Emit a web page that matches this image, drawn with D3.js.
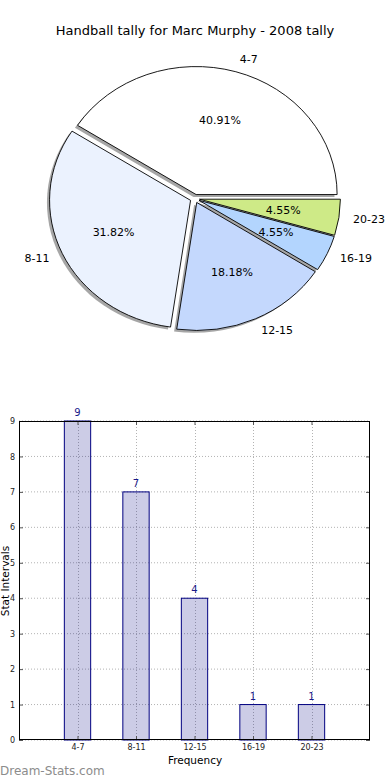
<!DOCTYPE html>
<html><head><meta charset="utf-8">
<script src="https://cdn.jsdelivr.net/npm/d3@7"></script>
<style>
body{margin:0;background:#fff}
svg{display:block}
text{font-family:"DejaVu Sans",sans-serif}
</style>
</head><body>
<svg id="c" width="390" height="780"></svg>
<script>
const title = "Handball tally for Marc Murphy - 2008 tally";
const categories = ["4-7","8-11","12-15","16-19","20-23"];
const counts = [9,7,4,1,1];
const pieColors = ["#ffffff","#ebf2fe","#c4d8fd","#b3d5fe","#ceea87"];
const yTicks = [0,1,2,3,4,5,6,7,8,9];
const xLabel = "Frequency";
const yLabel = "Stat Intervals";
const watermark = "Dream-Stats.com";

const svg = d3.select("#c");
const total = d3.sum(counts);

// ---------- Pie ----------
svg.append("text").attr("x",195).attr("y",35).attr("text-anchor","middle")
  .attr("font-size",13).attr("fill","#000").text(title);

const cx = 194.8, cy = 198.6, rx = 141, ry = 128, explode = 0.033;
const pie = d3.pie().sort(null).startAngle(Math.PI/2).endAngle(Math.PI/2 - 2*Math.PI);
const arcs = pie(counts);
const arcGen = d3.arc().innerRadius(0).outerRadius(1);
const pieData = arcs.map((a,i)=>{
  const m = (a.startAngle + a.endAngle)/2;
  const ux = Math.sin(m), uy = -Math.cos(m);
  return {a, i, ux, uy, ox: cx + explode*rx*ux, oy: cy + explode*ry*uy};
});
const shadowG = svg.append("g");
const wedgeG = svg.append("g");
pieData.forEach(d=>{
  shadowG.append("path").attr("d", arcGen(d.a))
    .attr("transform", `translate(${d.ox-2.6},${d.oy+2.4}) scale(${rx},${ry})`)
    .attr("fill","#4d4d4d").attr("fill-opacity",0.5);
});
pieData.forEach(d=>{
  wedgeG.append("path").attr("d", arcGen(d.a))
    .attr("transform", `translate(${d.ox},${d.oy}) scale(${rx},${ry})`)
    .attr("fill", pieColors[d.i]).attr("stroke","#000")
    .attr("stroke-width",0.9).attr("vector-effect","non-scaling-stroke")
    .attr("stroke-linejoin","miter");
});
const fmt = d3.format(".2f");
pieData.forEach(d=>{
  svg.append("text").attr("x", d.ox + 0.6*rx*d.ux).attr("y", d.oy + 0.6*ry*d.uy)
    .attr("text-anchor","middle").attr("dominant-baseline","central")
    .attr("font-size",11).attr("fill","#000")
    .text(fmt(counts[d.i]/total*100)+"%");
  svg.append("text").attr("x", d.ox + 1.1*rx*d.ux).attr("y", d.oy + 1.1*ry*d.uy)
    .attr("text-anchor", d.ux > 0 ? "start" : "end").attr("dominant-baseline","central")
    .attr("font-size",11).attr("fill","#000")
    .text(categories[d.i]);
});

// ---------- Bar chart ----------
const L = 19, R = 370, T = 421, B = 740;
const x = d3.scaleLinear().domain([-1,5]).range([L,R]);
const y = d3.scaleLinear().domain([0,9]).range([B,T]);
const barW = 0.45;
const g = svg.append("g");

// grid
g.selectAll("line.hg").data(yTicks).join("line").attr("class","hg")
  .attr("x1",L).attr("x2",R).attr("y1",d=>y(d)).attr("y2",d=>y(d))
  .attr("stroke","#b3b3b3").attr("stroke-width",1).attr("stroke-dasharray","1,2");
g.selectAll("line.vg").data(categories).join("line").attr("class","vg")
  .attr("y1",T).attr("y2",B).attr("x1",(d,i)=>Math.round(x(i))+0.5).attr("x2",(d,i)=>Math.round(x(i))+0.5)
  .attr("stroke","#b3b3b3").attr("stroke-width",1).attr("stroke-dasharray","1,2");

// bars
g.selectAll("rect.bar").data(counts).join("rect").attr("class","bar")
  .attr("x",(d,i)=>x(i - barW/2)).attr("width",x(barW)-x(0))
  .attr("y",d=>y(d)).attr("height",d=>B - y(d))
  .attr("fill","#000080").attr("fill-opacity",0.2)
  .attr("stroke","#000080").attr("stroke-width",1);

// value labels
g.selectAll("text.val").data(counts).join("text").attr("class","val")
  .attr("x",(d,i)=>x(i)).attr("y",d=>y(d)-5).attr("text-anchor","middle")
  .attr("font-size",10).attr("fill","#1a1a8a").text(d=>d);

// axes
const yAxisL = d3.axisLeft(y).tickValues(yTicks).tickSize(-4).tickPadding(4);
const yAxisR = d3.axisRight(y).tickValues(yTicks).tickSize(-4).tickFormat("");
const xAxisB = d3.axisBottom(x).tickValues(d3.range(categories.length)).tickSize(-4).tickPadding(4)
  .tickFormat(i=>categories[i]);
const xAxisT = d3.axisTop(x).tickValues(d3.range(categories.length)).tickSize(-4).tickFormat("");
function style(sel){
  sel.select(".domain").remove();
  sel.selectAll("text").attr("font-family","DejaVu Sans, sans-serif").attr("font-size",8).attr("fill","#222");
  sel.selectAll("line").attr("stroke","#555");
}
svg.append("g").attr("transform",`translate(${L},0)`).call(yAxisL).call(style);
svg.append("g").attr("transform",`translate(${R},0)`).call(yAxisR).call(style);
svg.append("g").attr("transform",`translate(0,${B})`).call(xAxisB).call(style);
svg.append("g").attr("transform",`translate(0,${T})`).call(xAxisT).call(style);

svg.append("rect").attr("x",L+0.5).attr("y",T+0.5).attr("width",R-L-1).attr("height",B-T-1)
  .attr("fill","none").attr("stroke","#000").attr("stroke-width",1);

svg.append("text").attr("x",195).attr("y",764).attr("text-anchor","middle")
  .attr("font-size",10.5).attr("fill","#000").text(xLabel);
svg.append("text").attr("transform","translate(8.5,581) rotate(-90)").attr("text-anchor","middle")
  .attr("font-size",10.5).attr("fill","#000").text(yLabel);

svg.append("text").attr("x",0).attr("y",775).attr("font-size",12).attr("fill","#8c8c8c")
  .text(watermark);
</script>
</body></html>
